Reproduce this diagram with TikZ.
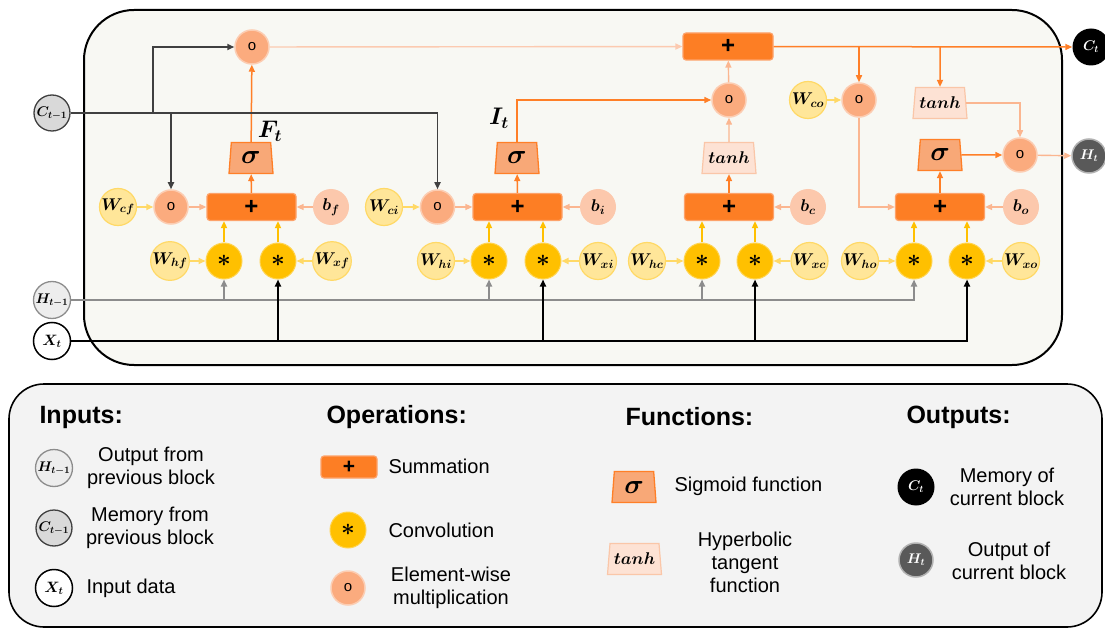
\RequirePackage{fix-cm}
\documentclass[tikz,border=0pt]{standalone}
\usepackage{fontspec}
\setsansfont{Liberation Sans}
\usepackage{bm}
\usetikzlibrary{shapes.geometric,arrows.meta}
\newcommand\myfs[1]{\fontsize{#1}{#1}\selectfont}
\definecolor{boxbg}{HTML}{F8F8F3}
\definecolor{legbg}{HTML}{F3F3F3}
\definecolor{orng}{HTML}{FF7F27}
\definecolor{sumfill}{HTML}{FD7E24}
\definecolor{sumdraw}{HTML}{FDA26A}
\definecolor{multfill}{HTML}{FBAB7E}
\definecolor{multdraw}{HTML}{FCCDB2}
\definecolor{biasfill}{HTML}{FCC8AC}
\definecolor{sigfill}{HTML}{F8A877}
\definecolor{tanhfill}{HTML}{FDE2D4}
\definecolor{tanhdraw}{HTML}{FAC6A8}
\definecolor{wfill}{HTML}{FFE699}
\definecolor{wdraw}{HTML}{FFD966}
\definecolor{convfill}{HTML}{FFC000}
\definecolor{convdraw}{HTML}{FFD34D}
\definecolor{lorng}{HTML}{FBB690}
\definecolor{llorng}{HTML}{FCCAB0}
\definecolor{ylw}{HTML}{FFD966}
\definecolor{gld}{HTML}{FFC000}
\definecolor{dkgray}{HTML}{404040}
\definecolor{mdgray}{HTML}{8C8C8C}
\definecolor{hgray}{HTML}{595959}
\tikzset{
  wc/.style={circle, fill=wfill, draw=wdraw, line width=1.2pt, minimum size=37pt, inner sep=0pt, font=\myfs{17}},
  conv/.style={circle, fill=convfill, draw=convdraw, line width=1pt, minimum size=36pt, inner sep=0pt, font=\myfs{24}},
  mult/.style={circle, fill=multfill, draw=multdraw, line width=1.5pt, minimum size=34pt, inner sep=0pt, font=\myfs{15}\sffamily},
  bias/.style={circle, fill=biasfill, minimum size=36pt, inner sep=0pt, font=\myfs{17}},
  sumbox/.style={rectangle, rounded corners=3pt, fill=sumfill, draw=sumdraw, line width=1.2pt, minimum width=89pt, minimum height=27pt, inner sep=0pt, font=\myfs{24}\sffamily\bfseries},
  sig/.style={trapezium, trapezium left angle=79, trapezium right angle=79, trapezium stretches body, minimum width=44pt, minimum height=31pt, inner sep=0pt, fill=sigfill, draw=orng, line width=1.3pt, font=\myfs{27}},
  tnh/.style={trapezium, trapezium left angle=78, trapezium right angle=78, trapezium stretches body, minimum width=54pt, minimum height=31pt, inner sep=0pt, fill=tanhfill, draw=tanhdraw, line width=1.2pt, font=\myfs{17}},
  cin/.style={circle, fill=black!15, draw=dkgray, line width=1.3pt, minimum size=36pt, inner sep=0pt, font=\myfs{14}},
  hin/.style={circle, fill=black!7, draw=mdgray, line width=1.3pt, minimum size=37pt, inner sep=0pt, font=\myfs{14}},
  xin/.style={circle, fill=white, draw=black, line width=1.5pt, minimum size=37pt, inner sep=0pt, font=\myfs{15}},
  cout/.style={circle, fill=black, minimum size=37pt, inner sep=0pt, text=white, font=\myfs{14}},
  hout/.style={circle, fill=hgray, draw=black!30, line width=1.5pt, minimum size=34pt, inner sep=0pt, text=white, font=\myfs{14}},
  tip/.style={-{Triangle[length=7pt,width=6pt]}},
  oarr/.style={tip, draw=orng, line width=1.5pt},
  larr/.style={tip, draw=lorng, line width=1.4pt},
  llarr/.style={tip, draw=llorng, line width=1.4pt},
  yarr/.style={tip, draw=ylw, line width=1.6pt},
  garr/.style={tip, draw=gld, line width=1.6pt},
  darr/.style={tip, draw=dkgray, line width=1.6pt},
  harr/.style={tip, draw=mdgray, line width=1.8pt},
  xarr/.style={tip, draw=black, line width=1.8pt},
  head/.style={anchor=west, font=\myfs{25}\sffamily\bfseries},
  ltxt/.style={align=center, font=\fontsize{20}{23}\selectfont\sffamily},
  gatelbl/.style={font=\myfs{24}}
}
\begin{document}
\begin{tikzpicture}[x=1pt,y=-1pt]
\useasboundingbox (0,0) rectangle (1105,628);
% frames
\draw[line width=2pt, fill=boxbg, rounded corners=50pt] (84,10) rectangle (1062,365);
\draw[line width=1.6pt, fill=legbg, rounded corners=35pt] (9,384) rectangle (1102,627);

% inputs / outputs
\node[cin] (Cp) at (52,113) {$\bm{C_{t-1}}$};
\node[hin] (Hp) at (52,300) {$\bm{H_{t-1}}$};
\node[xin] (Xt) at (52,341) {$\bm{X_t}$};
\node[cout] (Ct) at (1091,47) {$\bm{C_t}$};
\node[hout] (Ht) at (1089,156) {$\bm{H_t}$};

% forget gate
\node[mult] (mFtop) at (252,47) {o};
\node[sig] (sF) at (251,158) {$\bm{\sigma}$};
\node[gatelbl] (lF) at (270,131) {$\bm{F_t}$};
\node[sumbox] (pF) at (251.5,207) {+};
\node[wc] (Wcf) at (118,207) {$\bm{W_{cf}}$};
\node[mult] (mF) at (171,207) {o};
\node[bias] (bF) at (331,207) {$\bm{b_f}$};
\node[wc] (Whf) at (170,261) {$\bm{W_{hf}}$};
\node[conv] (cF1) at (224,261) {$\bm{\ast}$};
\node[conv] (cF2) at (278,261) {$\bm{\ast}$};
\node[wc] (Wxf) at (332,261) {$\bm{W_{xf}}$};

% input gate
\node[wc] (Wci) at (384,207) {$\bm{W_{ci}}$};
\node[mult] (mI) at (437.5,207) {o};
\node[sumbox] (pI) at (517.5,207) {+};
\node[bias] (bI) at (598,207) {$\bm{b_i}$};
\node[wc] (Whi) at (436,261) {$\bm{W_{hi}}$};
\node[conv] (cI1) at (489,261) {$\bm{\ast}$};
\node[conv] (cI2) at (543,261) {$\bm{\ast}$};
\node[wc] (Wxi) at (598,261) {$\bm{W_{xi}}$};
\node[sig] (sI) at (517,158) {$\bm{\sigma}$};
\node[gatelbl] (lI) at (499,118) {$\bm{I_t}$};

% cell
\node[sumbox] (pC) at (729,207) {+};
\node[bias] (bC) at (808,207) {$\bm{b_c}$};
\node[wc] (Whc) at (647,261) {$\bm{W_{hc}}$};
\node[conv] (cC1) at (702,261) {$\bm{\ast}$};
\node[conv] (cC2) at (755,261) {$\bm{\ast}$};
\node[wc] (Wxc) at (809.5,261) {$\bm{W_{xc}}$};
\node[tnh] (tC) at (729,158) {$\bm{tanh}$};
\node[mult] (mC) at (729,100) {o};
\node[sumbox, minimum width=90pt] (pTop) at (728,46.5) {+};

% output gate
\node[sumbox] (pO) at (940,207) {+};
\node[bias] (bO) at (1021,207) {$\bm{b_o}$};
\node[wc] (Who) at (860,261) {$\bm{W_{ho}}$};
\node[conv] (cO1) at (914,261) {$\bm{\ast}$};
\node[conv] (cO2) at (967,261) {$\bm{\ast}$};
\node[wc] (Wxo) at (1021,261) {$\bm{W_{xo}}$};
\node[sig] (sO) at (940,155) {$\bm{\sigma}$};
\node[mult] (mH) at (1020,155) {o};
\node[tnh] (tO) at (940,103) {$\bm{tanh}$};
\node[mult] (mCo) at (859,100) {o};
\node[wc] (Wco) at (808,100) {$\bm{W_{co}}$};

% ---- connectors: forget
\draw[yarr] (Wcf) -- (mF);
\draw[larr] (mF) -- (pF);
\draw[larr] (bF) -- (pF);
\draw[yarr] (Whf) -- (cF1);
\draw[yarr] (Wxf) -- (cF2);
\draw[garr] (cF1) -- (cF1 |- pF.south);
\draw[garr] (cF2) -- (cF2 |- pF.south);
\draw[oarr] (pF) -- (sF);
\draw[oarr] (sF) -- (mFtop);
\draw[llarr] (mFtop) -- (pTop);
% input
\draw[yarr] (Wci) -- (mI);
\draw[larr] (mI) -- (pI);
\draw[larr] (bI) -- (pI);
\draw[yarr] (Whi) -- (cI1);
\draw[yarr] (Wxi) -- (cI2);
\draw[garr] (cI1) -- (cI1 |- pI.south);
\draw[garr] (cI2) -- (cI2 |- pI.south);
\draw[oarr] (pI) -- (sI);
\draw[oarr] (sI.north) |- (mC.west);
% cell
\draw[larr] (bC) -- (pC);
\draw[yarr] (Whc) -- (cC1);
\draw[yarr] (Wxc) -- (cC2);
\draw[garr] (cC1) -- (cC1 |- pC.south);
\draw[garr] (cC2) -- (cC2 |- pC.south);
\draw[oarr] (pC) -- (tC);
\draw[larr] (tC) -- (mC);
\draw[larr] (mC) -- (pTop);
\draw[oarr] (pTop) -- (Ct);
\draw[oarr] (mCo |- pTop) -- (mCo);
\draw[oarr] (tO |- pTop) -- (tO);
% output
\draw[larr] (bO) -- (pO);
\draw[yarr] (Who) -- (cO1);
\draw[yarr] (Wxo) -- (cO2);
\draw[garr] (cO1) -- (cO1 |- pO.south);
\draw[garr] (cO2) -- (cO2 |- pO.south);
\draw[yarr] (Wco) -- (mCo);
\draw[larr] (mCo) |- (pO.west);
\draw[oarr] (pO) -- (sO);
\draw[oarr] (sO) -- (mH);
\draw[larr] (tO.east) -| (mH.north);
\draw[larr] (mH) -- (Ht);

% ---- input lines
\draw[darr] (Cp.east) -| (mI.north);
\draw[darr] (153,113) |- (mFtop.west);
\draw[darr] (mF |- Cp) -- (mF.north);
\draw[harr] (Hp.east) -| (cO1.south);
\draw[harr] (cF1 |- Hp) -- (cF1.south);
\draw[harr] (cI1 |- Hp) -- (cI1.south);
\draw[harr] (cC1 |- Hp) -- (cC1.south);
\draw[xarr] (Xt.east) -| (cO2.south);
\draw[xarr] (cF2 |- Xt) -- (cF2.south);
\draw[xarr] (cI2 |- Xt) -- (cI2.south);
\draw[xarr] (cC2 |- Xt) -- (cC2.south);

% ---- legend
\node[head] (hIn) at (36,417) {Inputs:};
\node[head] (hOp) at (323,417) {Operations:};
\node[head] (hFn) at (622,417) {Functions:};
\node[head] (hOut) at (903,417) {Outputs:};

\node[hin] (lH) at (54,468) {$\bm{H_{t-1}}$};
\node[ltxt] (tH) at (151,468) {Output from\\previous block};
\node[cin] (lC) at (54,528) {$\bm{C_{t-1}}$};
\node[ltxt] (tCm) at (150,528) {Memory from\\previous block};
\node[xin] (lX) at (54,588) {$\bm{X_t}$};
\node[ltxt, anchor=west] (tX) at (83,588) {Input data};

\node[sumbox, minimum width=56pt, minimum height=22pt, font=\myfs{21}\sffamily\bfseries] (lSum) at (349,467) {+};
\node[ltxt, anchor=west] (tSum) at (385,466) {Summation};
\node[conv] (lConv) at (348,530) {$\bm{\ast}$};
\node[ltxt, anchor=west] (tConv) at (385,530) {Convolution};
\node[mult] (lMult) at (348,588) {o};
\node[ltxt] (tMult) at (451,588) {Element-wise\\multiplication};

\node[sig] (lSig) at (634,487) {$\bm{\sigma}$};
\node[ltxt, anchor=west] (tSig) at (671,486) {Sigmoid function};
\node[tnh] (lTanh) at (634.5,559) {$\bm{tanh}$};
\node[ltxt] (tTanh) at (745,562) {Hyperbolic\\tangent\\function};

\node[cout] (lCt) at (916,487) {$\bm{C_t}$};
\node[ltxt] (tCt) at (1007,487) {Memory of\\current block};
\node[hout] (lHt) at (916,560) {$\bm{H_t}$};
\node[ltxt] (tHt) at (1009,561) {Output of\\current block};
\end{tikzpicture}
\end{document}
